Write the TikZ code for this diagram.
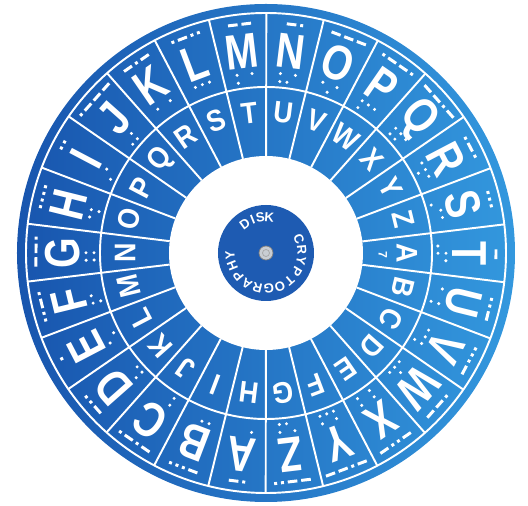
\documentclass[tikz,border=0pt]{standalone}
\usepackage{fontspec}
\setmainfont{Liberation Sans}
\usetikzlibrary{calc}

% Morse signs
\newcommand{\morseDot}{\hspace{1.1pt}\rule{1.7pt}{1.7pt}\hspace{1.1pt}}
\newcommand{\morseDash}{\hspace{1.1pt}\rule{5.5pt}{1.7pt}\hspace{1.1pt}}
\newcommand{\stripBraces}[1]{#1}

\tikzset{
    outLetter/.style={text=white, font=\fontsize{28}{28}\selectfont\bfseries, inner sep=0pt},
    inLetter/.style={text=white, font=\fontsize{17}{17}\selectfont\bfseries, inner sep=0pt},
    hubLetter/.style={text=white, font=\fontsize{7.5}{7.5}\selectfont\bfseries, inner sep=0pt},
    morseCode/.style={text=white, inner sep=0pt, font=\fontsize{5}{5}\selectfont},
    ringLine/.style={white, line width=1.1pt},
}

\begin{document}
\begin{tikzpicture}[x=0.02cm, y=0.02cm]
    % Define ring radii (in photo pixels) and sector width
    \def\rDisk{249}
    \def\rRim{240}
    \def\rMid{166}
    \def\rHole{97}
    \def\rHub{48}
    \def\sectorAngle{13.846}
    \def\startAngle{263}

    \definecolor{diskDark}{HTML}{1855AE}
    \definecolor{diskLight}{HTML}{3398DE}
    \definecolor{hubColour}{HTML}{1E5BB2}
    \definecolor{screwColour}{HTML}{C9CDD3}

    \useasboundingbox (-266,-253) rectangle (262,253);

    \coordinate (center) at (0,0);

    % Draw the disk and the hole in the middle
    \shade[left color=diskDark, right color=diskLight] (center) circle (\rDisk);
    \fill[white] (center) circle (\rHole);

    % Draw the two ring circles
    \draw[ringLine] (center) circle (\rRim);
    \draw[ringLine] (center) circle (\rMid);

    % Draw the sector lines
    \foreach \k in {0,...,25} {
        \pgfmathsetmacro\edge{\startAngle-(\k+0.5)*\sectorAngle}
        \draw[ringLine] (\edge:\rHole) -- (\edge:\rRim);
    }

    % Outer ring: letter, Morse code and braille
    \foreach \ch/\morse/\braille [count=\k from 0] in {
        A/{\morseDot\morseDash}/{1},
        B/{\morseDash\morseDot\morseDot\morseDot}/{1,2},
        C/{\morseDash\morseDot\morseDash\morseDot}/{1,4},
        D/{\morseDash\morseDot\morseDot}/{1,4,5},
        E/{\morseDot}/{1,5},
        F/{\morseDot\morseDot\morseDash\morseDot}/{1,2,4},
        G/{\morseDash\morseDash\morseDot}/{1,2,4,5},
        H/{\morseDot\morseDot\morseDot\morseDot}/{1,2,5},
        I/{\morseDot\morseDot}/{2,4},
        J/{\morseDot\morseDash\morseDash\morseDash}/{2,4,5},
        K/{\morseDash\morseDot\morseDash}/{1,3},
        L/{\morseDot\morseDash\morseDot\morseDot}/{1,2,3},
        M/{\morseDash\morseDash}/{1,3,4},
        N/{\morseDash\morseDot}/{1,3,4,5},
        O/{\morseDash\morseDash\morseDash}/{1,3,5},
        P/{\morseDot\morseDash\morseDash\morseDot}/{1,2,3,4},
        Q/{\morseDash\morseDash\morseDot\morseDash}/{1,2,3,4,5},
        R/{\morseDot\morseDash\morseDot}/{1,2,3,5},
        S/{\morseDot\morseDot\morseDot}/{2,3,4},
        T/{\morseDash}/{2,3,4,5},
        U/{\morseDot\morseDot\morseDash}/{1,3,6},
        V/{\morseDot\morseDot\morseDot\morseDash}/{1,2,3,6},
        W/{\morseDot\morseDash\morseDash}/{2,4,5,6},
        X/{\morseDash\morseDot\morseDot\morseDash}/{1,3,4,6},
        Y/{\morseDash\morseDot\morseDash\morseDash}/{1,3,4,5,6},
        Z/{\morseDash\morseDash\morseDot\morseDot}/{1,3,5,6}} {
        \pgfmathsetmacro\ang{\startAngle-\k*\sectorAngle}
        \node[outLetter, rotate=\ang-90, xscale=0.8] (out-\ch) at (\ang:203) {\ch};
        \node[morseCode, rotate=\ang-90] (morse-\ch) at (\ang:230) {\morse};
        \edef\dotList{\expandafter\stripBraces\braille}
        \foreach \b in \dotList {
            \pgfmathsetmacro\bAng{\ang+(1-mod(\b-1,3))*2.4}
            \pgfmathsetmacro\bRad{\b>3 ? 172 : 180}
            \fill[white] (\bAng:\bRad) circle (1.7);
        }
    }

    % Inner ring letters, turned seven places against the outer ring
    \foreach \ch [count=\k from 0] in {A,...,Z} {
        \pgfmathsetmacro\ang{\startAngle-(\k-7)*\sectorAngle}
        \node[inLetter, rotate=\ang-90, xscale=0.9] (in-\ch) at (\ang:141) {\ch};
    }
    \node[text=white, font=\fontsize{7}{7}\selectfont\bfseries, inner sep=0pt, rotate=-90] (mark) at (-1:117) {7};

    % Draw the hub with its screw
    \fill[hubColour] (center) circle (\rHub);
    \filldraw[fill=screwColour, draw=gray, line width=0.4pt] (center) circle (7);
    \draw[gray!70] (center) circle (3.5);

    % Hub text around the screw
    \foreach \ch/\ang in {D/126, I/112, S/99, K/85}
        \node[hubLetter, rotate=\ang-90] (disk-\ch) at (\ang:36) {\ch};
    \foreach \ch [count=\k from 0] in {C,R,Y,P,T,O,G,R,A,P,H,Y} {
        \pgfmathsetmacro\ang{23.6-\k*18.2}
        \node[hubLetter, rotate=\ang-90] (word-\k) at (\ang:36) {\ch};
    }

\end{tikzpicture}
\end{document}
